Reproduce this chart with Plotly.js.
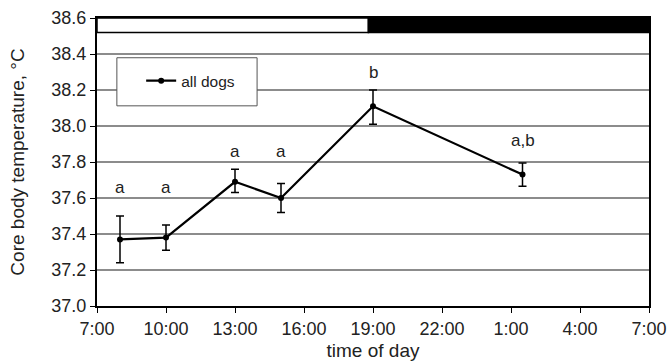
<!DOCTYPE html>
<html>
<head>
<meta charset="utf-8">
<script src="https://cdn.plot.ly/plotly-3.0.1.min.js"></script>
<style>html,body{margin:0;padding:0;background:#fff;}#chart{width:667px;height:361px;}</style>
</head>
<body>
<div id="chart"></div>
<script>
// time in hours after midnight of day 1 (25.5 = 1:30 next day)
const timeHours = [8, 10, 13, 15, 19, 25.5];
const tempMean = [37.37, 37.38, 37.69, 37.60, 38.11, 37.73];
const errPlus  = [0.13, 0.07, 0.07, 0.08, 0.09, 0.065];
const errMinus = [0.13, 0.07, 0.06, 0.08, 0.10, 0.065];
const sigLetters = ['a', 'a', 'a', 'a', 'b', 'a,b'];
const letterY = [37.66, 37.66, 37.86, 37.86, 38.30, 37.92];
const tickHours = [7, 10, 13, 16, 19, 22, 25, 28, 31];
const tickLabels = ['7:00', '10:00', '13:00', '16:00', '19:00', '22:00', '1:00', '4:00', '7:00'];
const lightStart = 7, darkStart = 18.8, darkEnd = 31;

const fam = 'Liberation Sans, Arial, sans-serif';
const tickFont = {family: fam, color: '#222', size: 18};
const titleFont = {family: fam, color: '#222', size: 19};

const trace = {
  x: timeHours, y: tempMean, type: 'scatter', mode: 'lines+markers',
  name: 'all dogs',
  line: {color: '#000', width: 2.2},
  marker: {color: '#000', size: 6},
  error_y: {type: 'data', symmetric: false, array: errPlus, arrayminus: errMinus,
            color: '#000', thickness: 1.5, width: 4}
};

const annotations = sigLetters.map((t, i) => ({
  x: timeHours[i], y: letterY[i], xref: 'x', yref: 'y', text: t,
  showarrow: false, font: {family: fam, size: 17, color: '#222'}
}));

const layout = {
  width: 667, height: 361,
  margin: {l: 97, r: 18, t: 18, b: 55},
  paper_bgcolor: '#fff', plot_bgcolor: '#fff',
  font: tickFont,
  showlegend: true,
  legend: {x: 0.08, y: 0.84, xanchor: 'left', yanchor: 'top', bgcolor: 'rgba(0,0,0,0)',
           borderwidth: 0, font: {family: fam, size: 15.5, color: '#222'}},
  xaxis: {
    range: [7, 31], tickmode: 'array', tickvals: tickHours, ticktext: tickLabels,
    showgrid: false, zeroline: false, showline: true, linecolor: '#000', linewidth: 2,
    mirror: true, ticks: 'outside', ticklen: 5, tickcolor: '#000', tickwidth: 1,
    tickfont: tickFont,
    title: {text: 'time of day', font: titleFont, standoff: 6}
  },
  yaxis: {
    range: [37, 38.6], dtick: 0.2, tickformat: '.1f',
    showgrid: true, gridcolor: '#8c8c8c', gridwidth: 1.2, zeroline: false,
    showline: true, linecolor: '#000', linewidth: 2, mirror: true,
    ticks: 'outside', ticklen: 5, tickcolor: '#000', tickwidth: 1,
    tickfont: tickFont,
    title: {text: 'Core body temperature, °C', font: titleFont, standoff: 22}
  },
  shapes: [
    {type: 'rect', xref: 'paper', yref: 'paper', x0: 0.036, x1: 0.29, y0: 0.695, y1: 0.862,
     line: {color: '#555', width: 1}, fillcolor: '#fff', layer: 'above'},
    {type: 'rect', xref: 'x', yref: 'y', x0: lightStart, x1: darkStart, y0: 38.52, y1: 38.6,
     line: {color: '#000', width: 1.5}, fillcolor: '#fff'},
    {type: 'rect', xref: 'x', yref: 'y', x0: darkStart, x1: darkEnd, y0: 38.52, y1: 38.6,
     line: {color: '#000', width: 1.5}, fillcolor: '#000'}
  ],
  annotations: annotations
};

Plotly.newPlot('chart', [trace], layout, {displayModeBar: false, staticPlot: true});
</script>
</body>
</html>
